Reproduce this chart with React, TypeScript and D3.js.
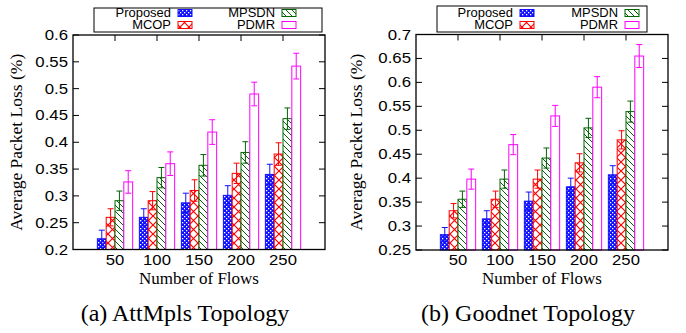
import React from "react";
import * as d3 from "d3";

const flows = ["50", "100", "150", "200", "250"];
const seriesNames = ["Proposed", "MCOP", "MPSDN", "PDMR"];

// AttMpls topology
const proposedA = [0.22, 0.26, 0.287, 0.301, 0.34];
const mcopA = [0.26, 0.291, 0.31, 0.342, 0.378];
const mpsdnA = [0.291, 0.334, 0.357, 0.381, 0.444];
const pdmrA = [0.326, 0.36, 0.419, 0.49, 0.542];
const proposedErrA = [0.016, 0.016, 0.018, 0.018, 0.019];
const mcopErrA = [0.016, 0.017, 0.02, 0.019, 0.021];
const mpsdnErrA = [0.018, 0.019, 0.02, 0.02, 0.02];
const pdmrErrA = [0.021, 0.022, 0.023, 0.022, 0.024];
const ticksA = ["0.2", "0.25", "0.3", "0.35", "0.4", "0.45", "0.5", "0.55", "0.6"];

// Goodnet topology
const proposedB = [0.282, 0.315, 0.352, 0.382, 0.407];
const mcopB = [0.332, 0.356, 0.398, 0.432, 0.48];
const mpsdnB = [0.356, 0.398, 0.442, 0.505, 0.539];
const pdmrB = [0.398, 0.47, 0.53, 0.59, 0.655];
const proposedErrB = [0.015, 0.017, 0.019, 0.018, 0.019];
const mcopErrB = [0.015, 0.017, 0.019, 0.019, 0.019];
const mpsdnErrB = [0.017, 0.019, 0.021, 0.02, 0.022];
const pdmrErrB = [0.021, 0.021, 0.022, 0.022, 0.024];
const ticksB = ["0.25", "0.3", "0.35", "0.4", "0.45", "0.5", "0.55", "0.6", "0.65", "0.7"];

const colors = ["#1010ff", "#ff0000", "#006400", "#ff00ff"];
const fills = ["url(#pBlue)", "url(#pRed)", "url(#pGreen)", "#ffffff"];
const SANS = "'Liberation Sans', Arial, sans-serif";
const SERIF = "'Liberation Serif', 'Times New Roman', serif";

interface PanelProps {
  left: number;
  right: number;
  top: number;
  bottom: number;
  values: number[][];
  errors: number[][];
  ticks: string[];
  caption: string;
  legendBox: [number, number, number, number];
  textCol: [number, number];
  titleX: number;
}

const Panel = ({ left, right, top, bottom, values, errors, ticks, caption, legendBox, textCol, titleX }: PanelProps) => {
  const yMin = +ticks[0];
  const yMax = +ticks[ticks.length - 1];
  const y = d3.scaleLinear().domain([yMin, yMax]).range([bottom, top]);
  const x = d3.scaleLinear().domain([-1, flows.length]).range([left, right]);
  const bw = 0.21;
  const tl = 6;
  const cx = (left + right) / 2;

  return (
    <g>
      {/* y ticks */}
      {ticks.map((t) => (
        <g key={t}>
          <line x1={left} x2={left + tl} y1={y(+t)} y2={y(+t)} stroke="#000" />
          <line x1={right} x2={right - tl} y1={y(+t)} y2={y(+t)} stroke="#000" />
          <text transform={`translate(${left - 5},${y(+t) + 5}) scale(1.12,1)`} textAnchor="end" fontFamily={SANS} fontSize={15}>
            {t}
          </text>
        </g>
      ))}
      {/* x ticks */}
      {flows.map((f, i) => (
        <g key={f}>
          <line x1={x(i)} x2={x(i)} y1={top} y2={top + tl} stroke="#000" />
          <line x1={x(i)} x2={x(i)} y1={bottom} y2={bottom - tl} stroke="#000" />
          <text transform={`translate(${x(i)},${bottom + 15}) scale(1.15,1)`} textAnchor="middle" fontFamily={SANS} fontSize={14.5}>
            {f}
          </text>
        </g>
      ))}
      {/* bars */}
      {values.map((series, k) =>
        series.map((v, i) => {
          const x0 = x(i + (k - 2) * bw);
          const x1 = x(i + (k - 1) * bw);
          const xm = (x0 + x1) / 2;
          const e = errors[k][i];
          const cw = 3;
          return (
            <g key={`${k}-${i}`}>
              <rect x={x0} y={y(v)} width={x1 - x0} height={bottom - y(v)} fill={fills[k]} stroke={colors[k]} strokeWidth={1} />
              <line x1={xm} x2={xm} y1={y(v - e)} y2={y(v + e)} stroke={colors[k]} strokeWidth={1} />
              <line x1={xm - cw} x2={xm + cw} y1={y(v + e)} y2={y(v + e)} stroke={colors[k]} strokeWidth={1} />
              <line x1={xm - cw} x2={xm + cw} y1={y(v - e)} y2={y(v - e)} stroke={colors[k]} strokeWidth={1} />
            </g>
          );
        })
      )}
      <rect x={left} y={top} width={right - left} height={bottom - top} fill="none" stroke="#000" strokeWidth={1.3} />
      {/* legend */}
      <rect x={legendBox[0]} y={legendBox[1]} width={legendBox[2] - legendBox[0]} height={legendBox[3] - legendBox[1]} fill="#fff" stroke="#000" strokeWidth={1} />
      {seriesNames.map((s, k) => {
        const col = k === 0 || k === 1 ? 0 : 1;
        const row = k === 0 || k === 2 ? 0 : 1;
        const tx = textCol[col];
        const ty = row === 0 ? 13 : 25;
        return (
          <g key={s}>
            <text transform={`translate(${tx},${ty + 4}) scale(1.08,1)`} textAnchor="end" fontFamily={SANS} fontSize={12}>
              {s}
            </text>
            <rect x={tx + 7} y={ty - 3.5} width={14} height={7} fill={fills[k]} stroke={colors[k]} strokeWidth={1} />
          </g>
        );
      })}
      {/* titles */}
      <text x={cx} y={284} textAnchor="middle" fontFamily={SERIF} fontSize={17}>
        Number of Flows
      </text>
      <text transform={`translate(${titleX},${(top + bottom) / 2}) rotate(-90)`} textAnchor="middle" fontFamily={SERIF} fontSize={17.5}>
        Average Packet Loss (%)
      </text>
      <text x={cx - 14} y={321} textAnchor="middle" fontFamily={SERIF} fontSize={24}>
        {caption}
      </text>
    </g>
  );
};

export default function App() {
  return (
    <svg width={686} height={333} style={{ position: "absolute", left: 0, top: 0, background: "#fff" }}>
      <defs>
        <pattern id="pBlue" patternUnits="userSpaceOnUse" width={4} height={4}>
          <rect width={4} height={4} fill="#1010ff" />
          <rect x={0} y={0} width={1.3} height={1.3} fill="#fff" />
          <rect x={2} y={2} width={1.3} height={1.3} fill="#fff" />
        </pattern>
        <pattern id="pRed" patternUnits="userSpaceOnUse" width={9} height={9}>
          <rect width={9} height={9} fill="#fff" />
          <path d="M0,0L9,9M9,0L0,9" stroke="#ff0000" strokeWidth={1.2} />
        </pattern>
        <pattern id="pGreen" patternUnits="userSpaceOnUse" width={6} height={6}>
          <rect width={6} height={6} fill="#fff" />
          <path d="M0,0L6,6M-1,5L1,7M5,-1L7,1" stroke="#006400" strokeWidth={1} />
        </pattern>
      </defs>
      <Panel
        left={73}
        right={325}
        top={35}
        bottom={249.5}
        values={[proposedA, mcopA, mpsdnA, pdmrA]}
        errors={[proposedErrA, mcopErrA, mpsdnErrA, pdmrErrA]}
        ticks={ticksA}
        caption="(a) AttMpls Topology"
        legendBox={[94, 8, 322, 32]}
        textCol={[171, 275]}
        titleX={22}
      />
      <Panel
        left={416}
        right={668}
        top={34.5}
        bottom={250}
        values={[proposedB, mcopB, mpsdnB, pdmrB]}
        errors={[proposedErrB, mcopErrB, mpsdnErrB, pdmrErrB]}
        ticks={ticksB}
        caption="(b) Goodnet Topology"
        legendBox={[437, 6, 647, 32]}
        textCol={[513, 618]}
        titleX={362}
      />
    </svg>
  );
}
